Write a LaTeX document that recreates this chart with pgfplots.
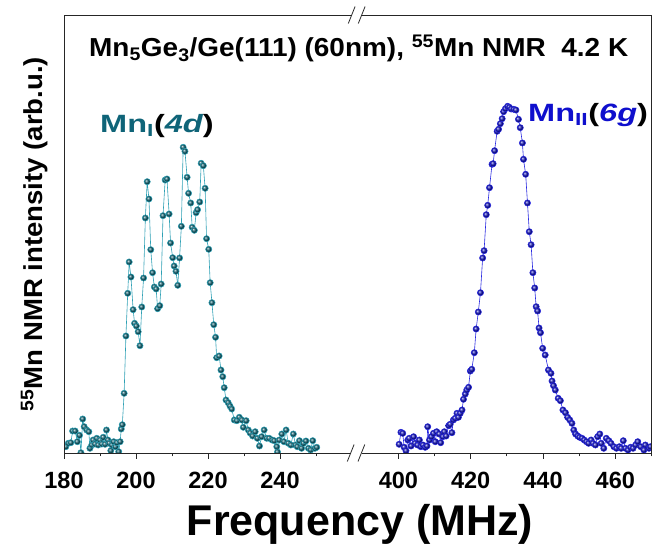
\documentclass[border=0pt]{standalone}
\usepackage{pgfplots}
\pgfplotsset{compat=1.18}
\usepackage{fontspec}
\setmainfont{Liberation Sans}
\definecolor{tealM}{RGB}{15,95,110}
\definecolor{tealL}{RGB}{45,160,180}
\definecolor{tealT}{RGB}{15,100,120}
\definecolor{blueM}{RGB}{20,20,185}
\definecolor{blueL}{RGB}{40,40,225}
\definecolor{blueT}{RGB}{15,15,205}
\pgfplotstableread{
f y
180.5 6.3
181.2 9.7
181.9 10.3
182.4 22
183.1 22
183.7 11.3
184.3 17.7
184.7 0.3
185.2 34
185.6 26.3
186.3 23
186.9 21.3
187.2 4.7
187.7 8
188.1 13
188.6 9
189.1 14.7
189.5 8
190.0 13
190.5 9
190.9 15.7
191.4 8.7
191.8 23
192.2 13
192.6 9.7
193.0 2.3
193.3 8
193.8 11.3
194.3 6.3
194.7 10.3
195.2 1.3
195.6 11.3
195.9 24
196.2 28.3
196.7 59.7
197.2 117
197.7 159.7
198.1 191
198.6 176
199.2 143.3
199.6 129.7
200.1 127
200.6 121.3
201.1 107.3
201.6 146
202.1 175
202.6 235
203.1 271.3
203.6 254
204.1 203.3
204.6 180.3
205.1 166
205.6 164
206.0 144.3
206.6 147.3
207.0 169
207.5 237.3
208.1 273
208.6 274
209.2 239
209.6 210
210.2 195.3
210.6 187
211.1 181.7
211.6 167.7
212.1 195
212.6 226.7
213.1 305.7
213.6 301.7
214.2 275.7
214.6 259.7
215.2 250
215.6 225.7
216.2 222.7
216.7 240.3
217.1 243.3
217.7 251
218.1 289.7
218.7 287.3
219.2 264.7
219.6 214.3
220.2 203.7
220.6 170.3
221.1 150.3
221.6 128.3
222.1 115.7
222.4 95.3
223.1 97
223.6 83
224.1 76.3
224.5 65.3
225.0 53
225.6 50.3
226.1 47
226.6 44
227.3 33
228.0 32.3
228.7 35.7
229.4 33
229.8 25.7
230.6 32.3
231.2 23
231.7 20
232.4 17
233.1 21.3
233.7 14.7
234.3 7
234.9 16.3
235.6 23
236.3 14.7
237.0 14.7
237.8 13
238.4 12.3
239.1 6.3
239.3 1
239.8 13
240.5 19
241.1 11.3
241.7 23
242.3 9.7
243.0 8
243.7 19
244.3 8
244.8 6.3
245.4 12.3
246.0 4.7
246.5 9.7
247.2 12
247.9 4.7
248.5 3
249.1 12.3
249.7 4.7
250.2 5.7
}\dataA
\pgfplotstableread{
f y
400.2 8.7
400.7 20.7
401.2 19.7
401.6 5.7
402.1 2.3
402.6 13
403.0 14.7
403.5 7
404.2 16.3
404.6 9.7
405.3 8
405.8 13
406.2 6.3
406.8 8
407.4 5.7
407.9 7
408.1 26.3
408.6 13
409.1 16.3
409.7 19.7
410.2 11.3
410.6 21.3
411.3 19
411.7 10.3
412.3 16.3
412.7 21.3
413.2 17
413.9 27.3
414.3 28.7
414.8 20.3
415.2 33
415.7 34.7
416.2 39.7
416.6 35.7
417.1 39.7
417.6 43
418.0 53.7
418.5 59
418.9 63
419.4 65.7
419.9 82
420.3 83.7
421.0 100.3
421.5 124
422.1 141
422.7 160.3
423.3 195
423.7 202.3
424.3 238.3
424.7 247.7
425.2 265.3
425.9 288.7
426.2 289.3
426.6 302.3
427.3 321.7
427.7 323.7
428.2 329.3
428.7 334.3
429.1 341.3
429.6 344.3
430.2 346.7
430.7 345.7
431.2 344
431.9 343.7
432.5 343
433.2 333.7
433.7 325.3
434.3 310
434.6 293.7
435.2 278.7
435.7 250
436.2 221.3
436.7 208.3
437.2 180.3
437.7 165
438.1 146.3
438.5 142
438.9 125
439.3 120.3
439.9 104.7
440.6 98
441.5 83
442.2 79.7
442.5 72
442.9 67.3
443.4 63
444.2 54.7
444.8 52.3
445.5 43
446.2 40.3
446.8 35.7
447.4 33
448.0 29.7
448.5 23
449.0 19
449.6 17
450.1 15.7
450.8 14.7
451.4 13
452.0 11.3
452.6 9.7
453.3 13
453.8 9.7
454.5 8
455.1 16.3
455.7 19
456.1 9.7
456.8 4.7
457.5 14.7
458.2 12.3
458.8 9.7
459.6 6.3
460.3 4.7
461.1 6.3
461.6 4.7
462.2 12.3
462.8 4.7
463.5 3
464.2 5.7
464.9 4.7
465.6 8
466.2 11.3
467.0 6.3
467.9 3
468.3 8
469.3 4.7
469.7 6.3
}\dataB
\pgfplotsset{
  brk/.style={
    scale only axis,
    height=438pt,
    ymin=0, ymax=438,
    ytick=\empty,
    axis line style={draw=none},
    tick style={line width=0.8pt, black!85},
    tick align=outside,
    xtick pos=bottom,
    major tick length=6pt,
    minor tick length=3.5pt,
    xticklabel style={font=\bfseries\fontsize{23.5}{24}\selectfont, inner sep=0pt, anchor=north, yshift=-13pt},
    clip marker paths=true,
  }
}
\begin{document}
\begin{tikzpicture}[x=1pt,y=1pt]
\path[use as bounding box] (0,0) rectangle (666,545);
\begin{axis}[brk,
  at={(64pt,92pt)}, anchor=south west,
  width=291pt,
  xmin=180, xmax=260.83,
  xtick={180,200,220,240}, xticklabels={180,200,220,240},
  minor xtick={190,210,230,250},
]
\addplot[color=tealL, line width=0.6pt, mark=ball, mark size=3.1pt,
  mark options={ball color=tealM}] table[x=f,y=y] {\dataA};
\end{axis}
\begin{axis}[brk,
  at={(355pt,92pt)}, anchor=south west,
  width=296.5pt,
  xmin=388, xmax=470,
  xtick={400,420,440,460}, xticklabels={400,420,440,460},
  minor xtick={410,430,450,470},
]
\addplot[color=blueL, line width=0.6pt, mark=ball, mark size=3.1pt,
  mark options={ball color=blueM}] table[x=f,y=y] {\dataB};
\end{axis}
% frame
\draw[line width=0.8pt, black!85] (64,92) rectangle (651.5,530);
% axis break marks
\fill[white] (350.8,90.5) rectangle (361.5,93.5);
\fill[white] (351.5,528.5) rectangle (361.8,531.5);
\draw[line width=0.8pt, black!85] (347.3,83.5) -- (354.1,100.5) (358.0,83.5) -- (364.8,100.5);
\draw[line width=0.8pt, black!85] (348.3,521.5) -- (355.1,538.5) (358.3,521.5) -- (365.1,538.5);
% texts
\node[anchor=base west, inner sep=0pt, font=\bfseries\fontsize{26}{28}\selectfont] at (89,488)
  {\scalebox{1.075}[1]{Mn\textsubscript{5}Ge\textsubscript{3}/Ge(111) (60nm), \textsuperscript{55}Mn NMR\ \ 4.2 K}};
\node[anchor=base west, inner sep=0pt, font=\bfseries\fontsize{25}{28}\selectfont] at (100,412)
  {\scalebox{1.3}[1]{\textcolor{tealT}{Mn\textsubscript{I}}(\textcolor{tealT}{\itshape 4d})}};
\node[anchor=base west, inner sep=0pt, font=\bfseries\fontsize{25}{28}\selectfont] at (528,423)
  {\scalebox{1.3}[1]{\textcolor{blueT}{Mn\textsubscript{II}}(\textcolor{blueT}{\itshape 6g})}};
\node[anchor=base, inner sep=0pt, font=\bfseries\fontsize{43}{44}\selectfont] at (360,9)
  {Frequency (MHz)};
\node[anchor=base, rotate=90, inner sep=0pt, font=\bfseries\fontsize{26}{28}\selectfont] at (42.5,311)
  {\scalebox{1.06}[1]{\textsuperscript{55}Mn NMR intensity (arb.u.)}};
\end{tikzpicture}
\end{document}
